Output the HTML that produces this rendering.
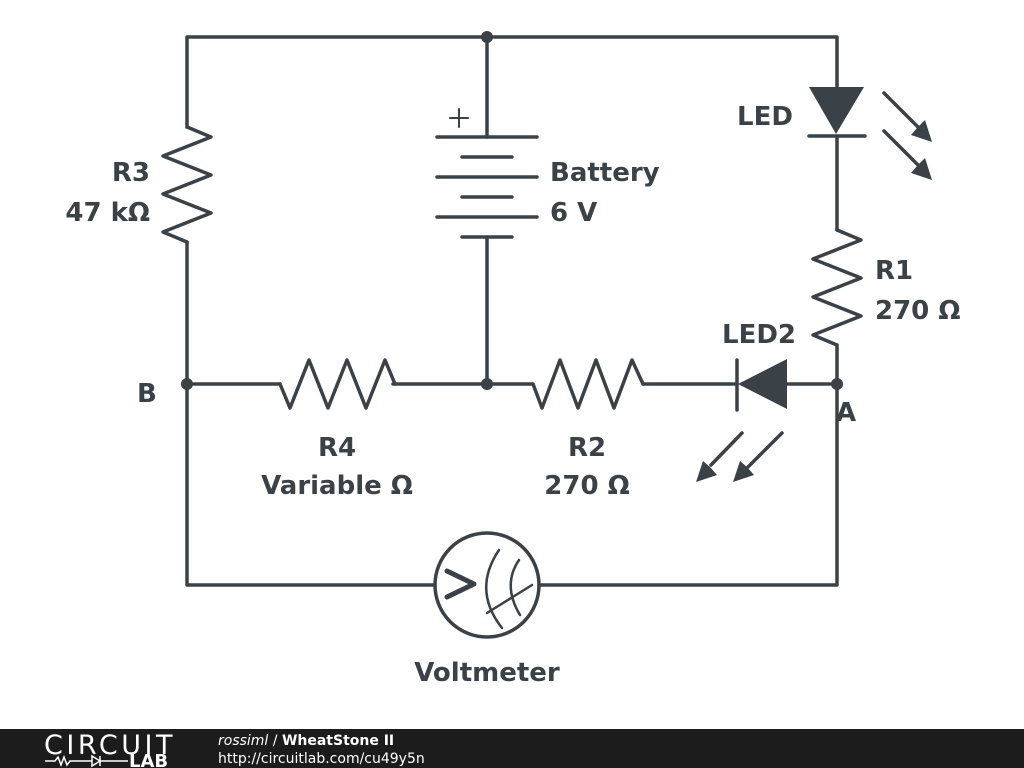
<!DOCTYPE html><html><head><style>body{margin:0;width:1024px;height:768px;background:#fff;overflow:hidden}svg{display:block}text{font-family:"DejaVu Sans","Liberation Sans",sans-serif;font-weight:bold;fill:#3b4247}</style></head><body>
<svg width="1024" height="768" viewBox="0 0 1024 768">
<g stroke="#3b4247" stroke-width="3.5" fill="none" stroke-linecap="round" stroke-linejoin="round">
<path d="M187 127V37H837V88M837 136V230M837 345V585H539M435 585H187V242"/>
<path d="M187 127l24 10-48 19 48 19-48 19 48 19-48 19 24 10"/>
<path d="M837 230l24 10-48 19 48 19-48 19 48 19-48 19 24 10"/>
<path d="M487 37V137M487 237V384M187 384H280M393 384H533M643 384H737M787 384H837"/>
<path d="M280 384l10 24 19-48 19 48 19-48 19 48 19-48 10 24"/>
<path d="M533 384l9 24 18-48 18 48 18-48 18 48 18-48 11 24"/>
<path d="M437 137H537M462 157H512M437 177H537M462 197H512M437 217H537M462 237H512"/>
<path d="M450 118h18M459 109v18" stroke-width="2"/>
<path d="M809 136H865"/>
<path d="M737 360V410"/>
<path d="M884 93L918 127M884 131L918 165M742 433L711 465M782 433L748 467"/>
<circle cx="487" cy="585" r="52"/>
<path d="M447 571L474 584L447 597" stroke-width="5"/>
<path d="M499 550Q472 590 502 628M519 560Q502 585 520 615M487 613L532 585" stroke-width="2.5"/>
</g>
<g fill="#3b4247">
<path d="M809 87H864L836 134Z"/>
<path d="M787 359V409L738 384Z"/>
<path d="M932 142L911 135L917 128L925 120Z"/>
<path d="M932 180L911 173L917 166L925 158Z"/>
<path d="M696 482L703 461L710 467L717 475Z"/>
<path d="M733 482L740 461L747 467L754 475Z"/>
<circle cx="487" cy="37" r="6"/><circle cx="487" cy="384" r="6"/><circle cx="187" cy="384" r="6"/><circle cx="837" cy="384" r="6"/>
</g>
<g font-size="26">
<text x="150" y="181" text-anchor="end">R3</text>
<text x="150" y="221" text-anchor="end">47 kΩ</text>
<text x="550" y="181">Battery</text>
<text x="550" y="221">6 V</text>
<text x="737" y="125">LED</text>
<text x="875" y="279">R1</text>
<text x="875" y="319">270 Ω</text>
<text x="722" y="343">LED2</text>
<text x="137" y="402">B</text>
<text x="836" y="421">A</text>
<text x="337" y="456" text-anchor="middle">R4</text>
<text x="337" y="494" text-anchor="middle">Variable Ω</text>
<text x="587" y="456" text-anchor="middle">R2</text>
<text x="587" y="494" text-anchor="middle">270 Ω</text>
<text x="487" y="681" text-anchor="middle">Voltmeter</text>
</g>
<rect x="0" y="729" width="1024" height="39" fill="#1c1c1c"/>
<text x="44" y="754" font-size="27" style="font-weight:normal;fill:#fff;letter-spacing:-0.5px" textLength="128">CIRCUIT</text>
<path d="M45 761h10l3-4 3 8 3-8 3 8 3-4h10M80 761h12M92 756v10l8-5zM100 756v10M100 761h28" stroke="#fff" stroke-width="1.5" fill="none"/>
<text x="129" y="767" font-size="18" style="fill:#fff">LAB</text>
<text x="218" y="745" font-size="14" style="fill:#fff"><tspan style="font-style:italic;font-weight:normal">rossiml</tspan><tspan style="font-weight:normal"> / </tspan>WheatStone II</text>
<text x="218" y="763" font-size="14" style="fill:#fff;font-weight:normal">http://circuitlab.com/cu49y5n</text>
</svg></body></html>
